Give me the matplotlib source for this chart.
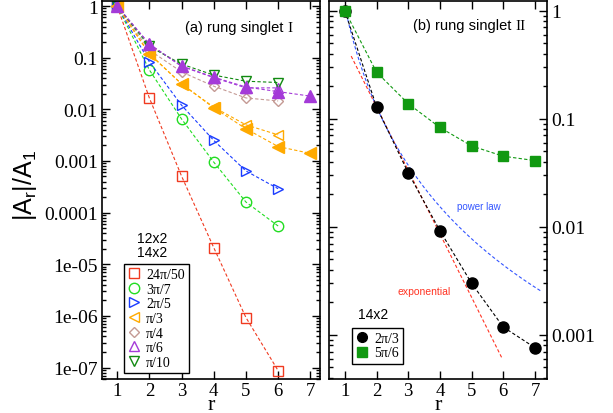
import numpy as np
import matplotlib.pyplot as plt
from matplotlib.lines import Line2D

plt.rcParams['font.family'] = ['Liberation Sans', 'DejaVu Sans']
plt.rcParams['mathtext.fontset'] = 'custom'
plt.rcParams['mathtext.rm'] = 'Liberation Sans'
plt.rcParams['mathtext.it'] = 'Liberation Sans'
SERIF = ['Liberation Serif', 'DejaVu Serif']

# distances
r12 = [1, 2, 3, 4, 5, 6]
r14 = [1, 2, 3, 4, 5, 6, 7]

# (a) rung singlet I, 12x2 (open) and 14x2 (filled)
a_24pi50 = [1, 0.0166, 5.1e-4, 2.1e-5, 9.3e-7, 8.7e-8]
a_3pi7 = [1, 0.058, 0.0065, 9.5e-4, 1.6e-4, 5.5e-5]
a_2pi5 = [1, 0.083, 0.012, 0.0025, 6.4e-4, 2.9e-4]
a_pi3 = [1, 0.12, 0.031, 0.011, 0.005, 0.0032]
a_pi4 = [1, 0.14, 0.053, 0.028, 0.0166, 0.0145]
a_pi6 = [1, 0.18, 0.068, 0.041, 0.026, 0.026]
a_pi10 = [1, 0.165, 0.075, 0.046, 0.035, 0.033]
a_pi3_14 = [1, 0.118, 0.031, 0.0107, 0.0042, 0.0019, 0.0014]
a_pi6_14 = [1, 0.184, 0.069, 0.042, 0.027, 0.022, 0.018]

# (b) rung singlet II, 14x2
b_2pi3 = [1, 0.129, 0.0316, 0.0092, 0.003, 0.00118, 0.00076]
b_5pi6 = [1, 0.27, 0.138, 0.083, 0.056, 0.045, 0.041]

# fits for 2pi/3: exponential 10**(c - s r), power law A r**-p
exp_c, exp_s, exp_range = 0.285, 0.5875, (1.2, 5.95)
pow_A, pow_p, pow_range = 1.084, 3.07, (1.05, 7.2)

red = '#f03a20'
lime = '#22dd22'
blue = '#1a3cff'
orange = '#ffaa00'
rosy = '#c49a94'
purple = '#a43ad8'
dgreen = '#118a11'

dash = (0, (3, 2))
fig = plt.figure(figsize=(6.13, 4.14), dpi=100)
ax1 = fig.add_axes([102 / 613, 34 / 414, 218 / 613, 378 / 414])
ax2 = fig.add_axes([329 / 613, 34 / 414, 218 / 613, 378 / 414])

series_a = [
    (a_24pi50, red, 's', '24π/50'),
    (a_3pi7, lime, 'o', '3π/7'),
    (a_2pi5, blue, '>', '2π/5'),
    (a_pi3, orange, '<', 'π/3'),
    (a_pi4, rosy, 'D', 'π/4'),
    (a_pi6, purple, '^', 'π/6'),
    (a_pi10, dgreen, 'v', 'π/10'),
]
handles = []
for vals, c, m, lab in series_a:
    ms = 5.5 if m == 'D' else 7.5
    ax1.plot(r12, vals, color=c, ls=dash, lw=0.8, marker=m, ms=ms,
             mfc='none', mec=c, mew=1.0)
    handles.append(Line2D([], [], ls='none', marker=m, ms=ms, mfc='none',
                          mec=c, mew=1.0, label=lab))
ax1.plot(r14, a_pi3_14, color=orange, ls=dash, lw=0.8, marker='<', ms=8,
         mfc=orange, mec=orange)
ax1.plot(r14, a_pi6_14, color=purple, ls=dash, lw=0.8, marker='^', ms=8,
         mfc=purple, mec=purple)

ax1.set_yscale('log')
ax1.set_ylim(6e-8, 1.25)
ax1.set_xlim(0.53, 7.3)
ax1.set_yticks([1, 0.1, 0.01, 0.001, 1e-4, 1e-5, 1e-6, 1e-7],
               ['1', '0.1', '0.01', '0.001', '0.0001', '1e-05', '1e-06', '1e-07'])

t1 = ax1.text(0.38, 0.913, '(a) rung singlet', transform=ax1.transAxes,
              fontsize=10.5, va='bottom', ha='left')
ax1.annotate('I', xy=(1, 0), xycoords=t1, xytext=(3, 0),
             textcoords='offset points', fontsize=11, va='bottom', ha='left',
             family=SERIF)
ax1.text(0.229, 0.373, '12x2', transform=ax1.transAxes, fontsize=10,
         ha='center', va='center')
ax1.text(0.229, 0.336, '14x2', transform=ax1.transAxes, fontsize=10,
         ha='center', va='center')
leg1 = ax1.legend(handles=handles, loc='upper left', bbox_to_anchor=(0.10, 0.305),
                  borderaxespad=0, fancybox=False, edgecolor='black',
                  prop={'family': SERIF, 'size': 10}, handlelength=0.8,
                  handletextpad=0.5, labelspacing=0.12, borderpad=0.3,
                  framealpha=1)
leg1.get_frame().set_linewidth(1.0)

# panel b
rr_exp = np.linspace(*exp_range, 60)
rr_pow = np.linspace(*pow_range, 60)
ax2.plot(rr_exp, 10 ** (exp_c - exp_s * rr_exp), color='#ff3322', ls=dash, lw=0.8)
ax2.plot(rr_pow, pow_A * rr_pow ** (-pow_p), color='#3355ff', ls=dash, lw=0.8)
ax2.plot(r14, b_2pi3, color='black', ls=dash, lw=0.8, marker='o', ms=8,
         mfc='black', mec='black')
ax2.plot(r14, b_5pi6, color='#119911', ls=dash, lw=0.8, marker='s', ms=7.5,
         mfc='#119911', mec='#119911')
ax2.set_yscale('log')
ax2.set_ylim(3.9e-4, 1.23)
ax2.set_xlim(0.5, 7.38)
ax2.set_yticks([1, 0.1, 0.01, 0.001], ['1', '0.1', '0.01', '0.001'])

t2 = ax2.text(0.385, 0.918, '(b) rung singlet', transform=ax2.transAxes,
              fontsize=10.5, va='bottom', ha='left')
ax2.annotate('II', xy=(1, 0), xycoords=t2, xytext=(3, 0),
             textcoords='offset points', fontsize=11, va='bottom', ha='left',
             family=SERIF)
ax2.text(0.587, 0.458, 'power law', transform=ax2.transAxes, fontsize=7,
         color='#3355ff', va='center')
ax2.text(0.312, 0.233, 'exponential', transform=ax2.transAxes, fontsize=7.5,
         color='#ff3322', va='center')
ax2.text(0.133, 0.172, '14x2', transform=ax2.transAxes, fontsize=10, va='center')
h2 = [Line2D([], [], ls='none', marker='o', ms=7, color='black', label='2π/3'),
      Line2D([], [], ls='none', marker='s', ms=6.5, color='#119911', label='5π/6')]
leg2 = ax2.legend(handles=h2, loc='upper left', bbox_to_anchor=(0.106, 0.136),
                  borderaxespad=0, fancybox=False, edgecolor='black',
                  prop={'family': SERIF, 'size': 10}, handlelength=0.8,
                  handletextpad=0.5, labelspacing=0.12, borderpad=0.3,
                  framealpha=1)
leg2.get_frame().set_linewidth(1.0)

for ax in (ax1, ax2):
    ax.set_xticks(range(1, 8))
    ax.tick_params(which='both', direction='in', top=True, bottom=True,
                   left=True, right=True, width=1.0)
    ax.tick_params(which='major', length=6, labelsize=14, pad=3)
    ax.tick_params(axis='x', which='major', labelsize=13.5, pad=2)
    ax.tick_params(which='minor', length=3)
    for lab in ax.get_xticklabels() + ax.get_yticklabels():
        lab.set_family(SERIF)
    for s in ax.spines.values():
        s.set_linewidth(1.2)
    ax.set_xlabel('r', family=SERIF, fontsize=16, labelpad=-3)

ax2.tick_params(which='both', labelleft=False, labelright=True)
for lab in ax2.get_yticklabels():
    lab.set_family(SERIF)

fig.text(25 / 613, 1 - 185 / 414, r'$\mathrm{|A_r|/A_1}$', rotation=90,
         fontsize=18, ha='center', va='center')

fig.savefig('out.png', dpi=100)
